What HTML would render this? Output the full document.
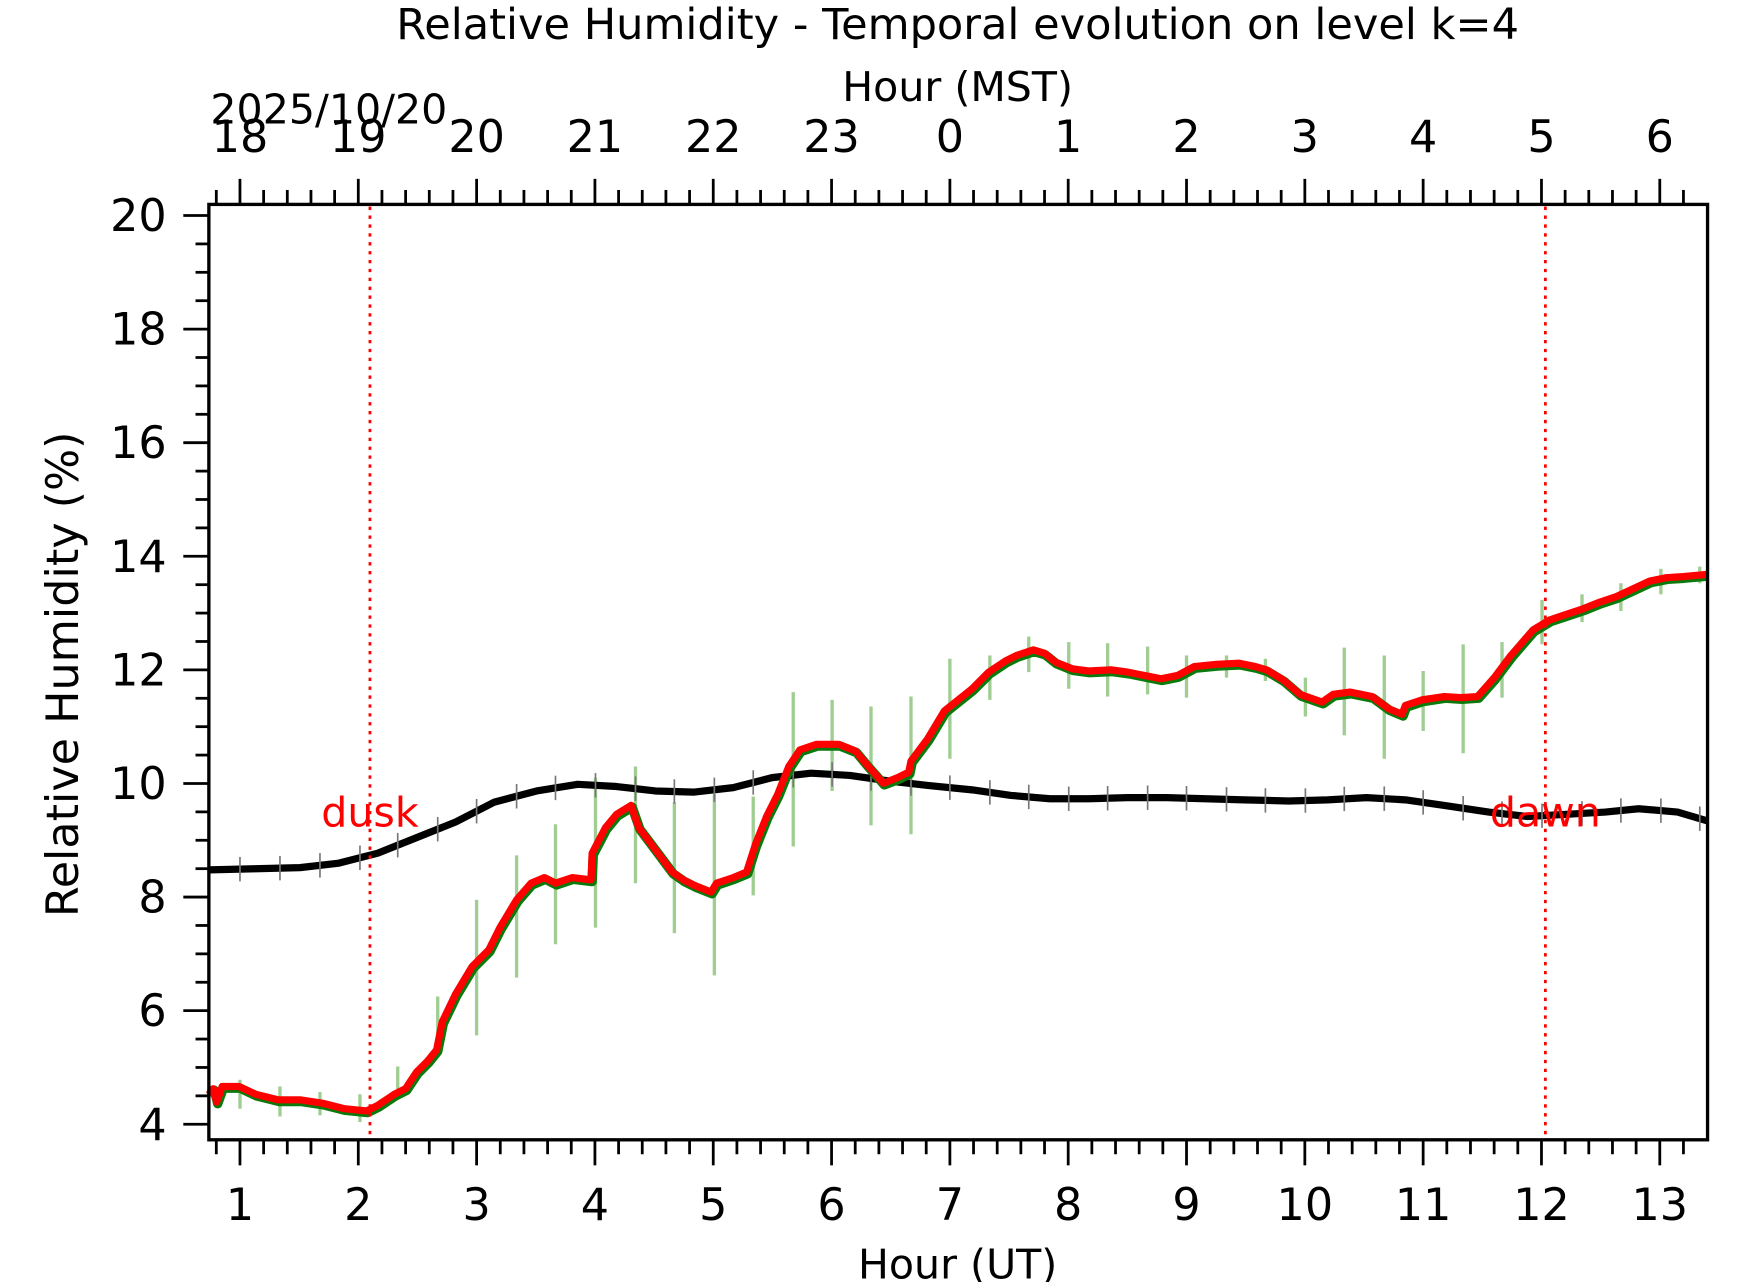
<!DOCTYPE html>
<html><head><meta charset="utf-8"><style>html,body{margin:0;padding:0;background:#fff}svg{display:block}</style></head>
<body>
<svg id="s" xmlns="http://www.w3.org/2000/svg" width="1742" height="1282" viewBox="0 0 1568 1154" preserveAspectRatio="none" font-family="DejaVu Sans, Liberation Sans, sans-serif">
<rect width="1568" height="1154" fill="#fff"/>
<g id="eb" stroke="#8fc47f" stroke-opacity="0.85" stroke-width="3"></g>
<polyline id="blk" fill="none" stroke="#000" stroke-width="6.5" stroke-linejoin="round" points="188,783 230,782 270,781 305,777 340,768 375,754 410,740 445,722 483,712 520,706 555,708 590,712 625,713 660,709 695,700 730,696 765,698 800,703 835,707 875,711 910,716 945,719 980,719 1015,718 1050,718 1085,719 1120,720 1160,721 1195,720 1230,718 1265,720 1300,725 1340,731 1375,735 1410,733 1445,731 1475,728 1510,731 1537,739"/>
<g id="bt" stroke="#777" stroke-width="1.5"></g>
<polyline id="grn" fill="none" stroke="#0a7a0a" stroke-width="8.5" stroke-linejoin="round" transform="translate(1,1.5)"/>
<polyline id="red" fill="none" stroke="#f00" stroke-width="6.5" stroke-linejoin="round"/>
<line x1="333" y1="186" x2="333" y2="1025" stroke="#f00" stroke-width="2.5" stroke-dasharray="3,5"/>
<line x1="1391" y1="186" x2="1391" y2="1025" stroke="#f00" stroke-width="2.5" stroke-dasharray="3,5"/>
<text x="333" y="744" fill="#f00" font-size="37" text-anchor="middle">dusk</text>
<text x="1391" y="744" fill="#f00" font-size="37" text-anchor="middle">dawn</text>
<rect x="188" y="184" width="1349" height="842" fill="none" stroke="#000" stroke-width="3"/>
<g id="ax" stroke="#000" stroke-width="2.5"></g>
<g id="tl" font-size="40" text-anchor="middle"></g>
<text x="862" y="35" font-size="38.8" text-anchor="middle">Relative Humidity - Temporal evolution on level k=4</text>
<text x="862" y="91" font-size="37" text-anchor="middle">Hour (MST)</text>
<text x="296" y="111" font-size="37" text-anchor="middle">2025/10/20</text>
<text x="862" y="1151" font-size="37" text-anchor="middle">Hour (UT)</text>
<text transform="translate(70,607) rotate(-90)" font-size="40" text-anchor="middle">Relative Humidity (%)</text>
</svg>
<script>
var NS="http://www.w3.org/2000/svg";
function el(p,t,a,txt){var e=document.createElementNS(NS,t);for(var k in a)e.setAttribute(k,a[k]);if(txt!==undefined)e.textContent=txt;document.getElementById(p).appendChild(e);}
var red="188,985 192,980 195,992 200,978 215,978 230,985 250,990 270,990 290,993 310,998 330,1000 340,995 355,985 365,980 375,965 385,955 393,945 398,920 410,895 425,870 440,855 450,835 465,810 478,795 490,790 500,795 515,790 532,792 533,768 545,745 555,733 568,725 575,745 590,765 605,785 615,792 625,797 640,803 645,795 660,790 672,785 680,760 690,735 700,715 710,690 720,675 735,670 755,670 770,676 780,688 795,705 808,700 818,695 820,685 835,665 850,640 865,628 875,620 890,605 905,595 915,590 930,585 940,588 950,596 965,602 980,604 1000,603 1015,605 1030,608 1045,611 1060,608 1075,600 1095,598 1115,597 1130,600 1140,603 1155,612 1170,625 1190,632 1200,625 1215,623 1235,627 1250,638 1262,643 1265,635 1280,630 1300,627 1315,628 1330,627 1345,610 1360,590 1380,567 1395,558 1410,553 1425,548 1440,542 1455,537 1470,530 1485,523 1500,520 1515,519 1537,517";
document.getElementById("red").setAttribute("points",red);
document.getElementById("grn").setAttribute("points",red);
var eb=[[216,972,998],[252,978,1005],[288,983,1004],[324,985,1010],[358,960,990],[394,897,950],[429,810,932],[465,770,880],[500,742,850],[536,700,835],[572,690,795],[607,722,840],[643,715,878],[678,717,806],[714,623,762],[749,630,712],[784,636,743],[820,627,751],[855,593,683],[891,590,630],[926,573,605],[962,578,620],[997,579,627],[1033,582,625],[1068,590,628],[1104,590,610],[1139,593,613],[1175,610,645],[1210,583,662],[1246,590,683],[1281,604,658],[1317,580,678],[1352,578,628],[1388,540,580],[1424,535,560],[1459,525,550],[1495,512,535],[1530,510,525]];
eb.forEach(function(b){el("eb","line",{x1:b[0],x2:b[0],y1:b[1],y2:b[2]});});
var bx=[216,252,288,324,358,394,429,465,500,536,572,607,643,678,714,749,784,820,855,891,926,962,997,1033,1068,1104,1139,1175,1210,1246,1281,1317,1352,1388,1424,1459,1495,1530];
var bp=document.getElementById("blk").getAttribute("points").split(" ").map(function(s){return s.split(",").map(Number);});
function by(x){for(var i=1;i<bp.length;i++){if(x<=bp[i][0]){var a=bp[i-1],b=bp[i];return a[1]+(b[1]-a[1])*(x-a[0])/(b[0]-a[0]);}}return bp[bp.length-1][1];}
bx.forEach(function(x){var y=by(x);el("bt","line",{x1:x,x2:x,y1:y-11,y2:y+11});});
var x0=216,ph=106.5;
for(var m=-5;m<=12*5+3;m++){var x=x0+m*ph/5;if(x<189||x>1536)continue;var maj=(m%5==0);var L=maj?23:13;
el("ax","line",{x1:x,x2:x,y1:184,y2:184-L});el("ax","line",{x1:x,x2:x,y1:1026,y2:1026+L});}
var mst=[18,19,20,21,22,23,0,1,2,3,4,5,6];
for(var h=0;h<=12;h++){var x=x0+h*ph;el("tl","text",{x:x,y:1098},String(h+1));el("tl","text",{x:x,y:137},String(mst[h]));}
for(var v=4;v<=20.01;v+=0.5){var y=1012-(v-4)*51.125;var maj=(Math.abs(v/2-Math.round(v/2))<0.01);var L=maj?23:12;
el("ax","line",{x1:188,x2:188-L,y1:y,y2:y});
if(maj)el("tl","text",{x:150,y:y+14,"text-anchor":"end"},String(v));}
</script>
</body></html>
